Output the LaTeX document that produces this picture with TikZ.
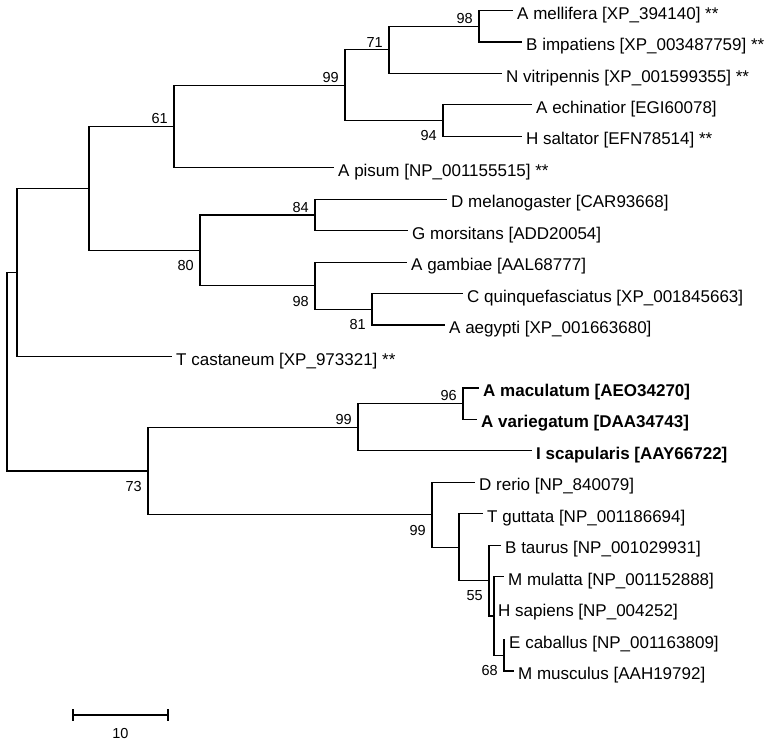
\documentclass[tikz,border=0pt]{standalone}
\usepackage{fontspec}
\setmainfont{Liberation Sans}
\begin{document}
\begin{tikzpicture}[x=1pt,y=-1pt,
  br/.style={line width=1.2pt,black},
  leaf/.style={anchor=west,inner xsep=4pt,inner ysep=0pt,font=\fontsize{17}{20}\selectfont,text height=18.2pt,text depth=1pt},
  bleaf/.style={leaf,font=\fontsize{17}{20}\selectfont\bfseries},
  bsa/.style={anchor=south east,inner sep=0pt,font=\fontsize{14.5}{16}\selectfont,xshift=-6pt,yshift=2.5pt},
  bsb/.style={anchor=north east,inner sep=0pt,font=\fontsize{14.5}{16}\selectfont,xshift=-6pt,yshift=-10pt}]
\useasboundingbox (0,0) rectangle (770,745);
% internal nodes
\coordinate (n98) at (479,26.2);
\coordinate (n71) at (389,49.8);
\coordinate (n94) at (443,120.6);
\coordinate (n99a) at (345,85.2);
\coordinate (n61) at (174,126.5);
\coordinate (n84) at (315,214.9);
\coordinate (n81) at (372,309.3);
\coordinate (n98b) at (315,285.7);
\coordinate (n80) at (200,250.3);
\coordinate (nI) at (89,188.4);
\coordinate (nT) at (17,272.4);
\coordinate (n96) at (463,403.6);
\coordinate (n99c) at (358,427.2);
\coordinate (n68) at (504,655.2);
\coordinate (nH) at (494,615.9);
\coordinate (n55) at (489,580.5);
\coordinate (nTg) at (459,547.1);
\coordinate (n99d) at (432,514.7);
\coordinate (n73) at (148,470.9);
\coordinate (root) at (7,371.7);
% leaves
\node[leaf] (l1) at (513,10.5) {A mellifera [XP\_394140] **};
\node[leaf] (l2) at (522,41.95) {B impatiens [XP\_003487759] **};
\node[leaf] (l3) at (502,73.4) {N vitripennis [XP\_001599355] **};
\node[leaf] (l4) at (532,104.85) {A echinatior [EGI60078]};
\node[leaf] (l5) at (522,136.3) {H saltator [EFN78514] **};
\node[leaf] (l6) at (334,167.75) {A pisum [NP\_001155515] **};
\node[leaf] (l7) at (447,199.2) {D melanogaster [CAR93668]};
\node[leaf] (l8) at (408,230.65) {G morsitans [ADD20054]};
\node[leaf] (l9) at (407,262.1) {A gambiae [AAL68777]};
\node[leaf] (l10) at (463,293.55) {C quinquefasciatus [XP\_001845663]};
\node[leaf] (l11) at (445,325.0) {A aegypti [XP\_001663680]};
\node[leaf] (l12) at (172,356.45) {T castaneum [XP\_973321] **};
\node[bleaf] (l13) at (479,387.9) {A maculatum [AEO34270]};
\node[bleaf] (l14) at (477,419.35) {A variegatum [DAA34743]};
\node[bleaf] (l15) at (532,450.8) {I scapularis [AAY66722]};
\node[leaf] (l16) at (475,482.25) {D rerio [NP\_840079]};
\node[leaf] (l17) at (483,513.7) {T guttata [NP\_001186694]};
\node[leaf] (l18) at (501,545.15) {B taurus [NP\_001029931]};
\node[leaf] (l19) at (504,576.6) {M mulatta [NP\_001152888]};
\node[leaf] (l20) at (494,608.05) {H sapiens [NP\_004252]};
\node[leaf] (l21) at (505,639.5) {E caballus [NP\_001163809]};
\node[leaf] (l22) at (514,670.95) {M musculus [AAH19792]};
% branches
\draw[br] (n98) |- (l1.west);
\draw[br] (n98) |- (l2.west);
\draw[br] (n71) |- (n98);
\draw[br] (n71) |- (l3.west);
\draw[br] (n94) |- (l4.west);
\draw[br] (n94) |- (l5.west);
\draw[br] (n99a) |- (n71);
\draw[br] (n99a) |- (n94);
\draw[br] (n61) |- (n99a);
\draw[br] (n61) |- (l6.west);
\draw[br] (n84) |- (l7.west);
\draw[br] (n84) |- (l8.west);
\draw[br] (n81) |- (l10.west);
\draw[br] (n81) |- (l11.west);
\draw[br] (n98b) |- (l9.west);
\draw[br] (n98b) |- (n81);
\draw[br] (n80) |- (n84);
\draw[br] (n80) |- (n98b);
\draw[br] (nI) |- (n61);
\draw[br] (nI) |- (n80);
\draw[br] (nT) |- (nI);
\draw[br] (nT) |- (l12.west);
\draw[br] (n96) |- (l13.west);
\draw[br] (n96) |- (l14.west);
\draw[br] (n99c) |- (n96);
\draw[br] (n99c) |- (l15.west);
\draw[br] (n68) |- (l21.west);
\draw[br] (n68) |- (l22.west);
\draw[br] (nH) |- (l19.west);
\draw[br] (nH) |- (l20.west);
\draw[br] (nH) |- (n68);
\draw[br] (n55) |- (l18.west);
\draw[br] (n55) |- (nH);
\draw[br] (nTg) |- (l17.west);
\draw[br] (nTg) |- (n55);
\draw[br] (n99d) |- (l16.west);
\draw[br] (n99d) |- (nTg);
\draw[br] (n73) |- (n99c);
\draw[br] (n73) |- (n99d);
\draw[br] (root) |- (nT);
\draw[br] (root) |- (n73);
% bootstrap values
\node[bsa] (b98) at (n98) {98};
\node[bsa] (b71) at (n71) {71};
\node[bsa] (b99a) at (n99a) {99};
\node[bsa] (b61) at (n61) {61};
\node[bsb] (b94) at (n94) {94};
\node[bsa] (b84) at (n84) {84};
\node[bsb] (b80) at (n80) {80};
\node[bsb] (b98b) at (n98b) {98};
\node[bsb] (b81) at (n81) {81};
\node[bsa] (b96) at (n96) {96};
\node[bsa] (b99c) at (n99c) {99};
\node[bsb] (b73) at (n73) {73};
\node[bsb] (b99d) at (n99d) {99};
\node[bsb] (b55) at (n55) {55};
\node[bsb] (b68) at (n68) {68};
% scale bar
\coordinate (sb1) at (73,715);
\coordinate (sb2) at (168,715);
\draw[br] (sb1) -- (sb2);
\draw[br] ([yshift=6pt]sb1) -- ([yshift=-6pt]sb1);
\draw[br] ([yshift=6pt]sb2) -- ([yshift=-6pt]sb2);
\node[font=\fontsize{14.5}{16}\selectfont,inner sep=0pt] (sbl) at (120.5,733) {10};
\end{tikzpicture}
\end{document}
